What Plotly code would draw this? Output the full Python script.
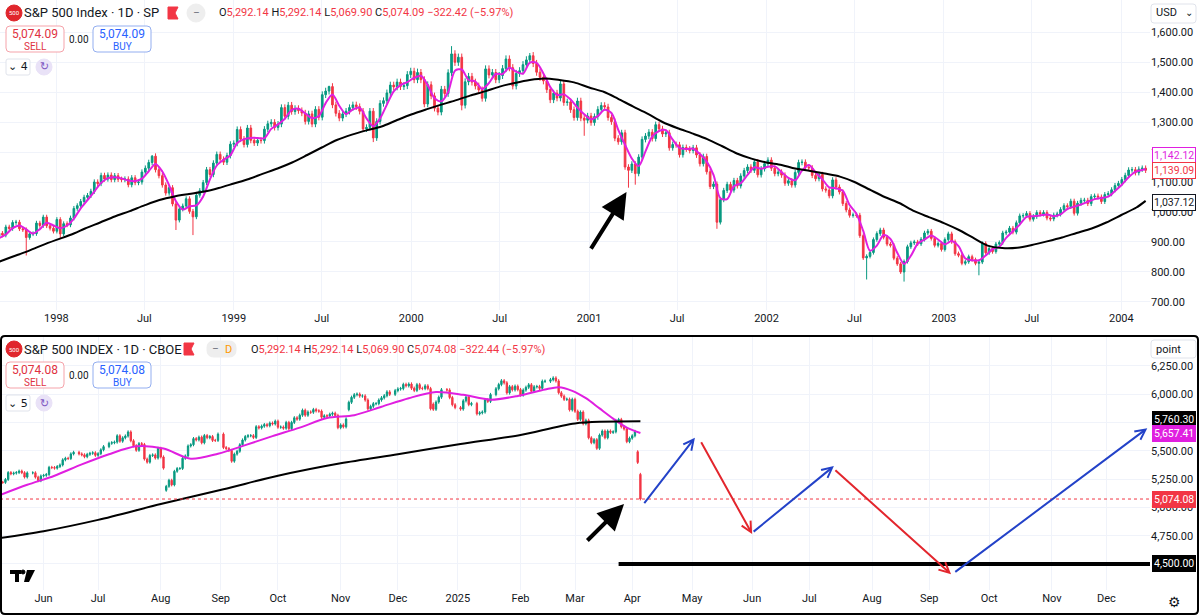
import pandas as pd
import plotly.graph_objects as go

W, H = 1200, 616
FONT = "Roboto"
INK = "#131722"
UP = "#089981"
DOWN = "#F23645"
PINK = "#E01FE0"
BLUE = "#2342C8"
RED = "#E3262D"
GRID = "#F0F3FA"

# ---- top pane: S&P 500 weekly closes (Fridays), Sep 1997 - Feb 2004
close_1997 = [929, 923, 950, 945, 965, 966, 944, 941, 915, 927, 928, 963, 955, 983, 954, 946, 936]
close_1998 = [975, 927, 961, 957, 980, 1012, 1021, 1035, 1049, 1055, 1069, 1100, 1095, 1122, 1110,
              1123, 1108, 1121, 1109, 1108, 1110, 1091, 1114, 1098, 1100, 1133, 1146, 1165, 1186,
              1141, 1121, 1090, 1063, 1081, 1027, 973, 1010, 1020, 1044, 1002, 984, 1056, 1071,
              1098, 1141, 1125, 1163, 1192, 1176, 1166, 1188, 1226]
close_1999 = [1229, 1275, 1243, 1225, 1280, 1239, 1230, 1239, 1238, 1276, 1294, 1299, 1282, 1293,
              1348, 1319, 1356, 1335, 1345, 1338, 1330, 1302, 1327, 1293, 1342, 1316, 1391, 1403,
              1418, 1357, 1329, 1313, 1327, 1336, 1348, 1357, 1351, 1336, 1277, 1282, 1336, 1247,
              1302, 1362, 1371, 1397, 1423, 1417, 1433, 1418, 1421, 1458, 1469]
close_2000 = [1441, 1465, 1441, 1360, 1424, 1387, 1346, 1333, 1409, 1395, 1464, 1527, 1499, 1516,
              1356, 1434, 1452, 1433, 1420, 1407, 1379, 1477, 1457, 1465, 1441, 1455, 1478, 1510,
              1481, 1420, 1462, 1471, 1491, 1507, 1521, 1495, 1466, 1449, 1437, 1408, 1374, 1396,
              1380, 1427, 1365, 1367, 1341, 1315, 1370, 1313, 1306, 1320]
close_2001 = [1298, 1318, 1342, 1355, 1350, 1315, 1301, 1246, 1234, 1264, 1150, 1139, 1160, 1128,
              1183, 1242, 1253, 1266, 1245, 1291, 1277, 1260, 1264, 1214, 1225, 1224, 1191, 1215,
              1210, 1205, 1214, 1190, 1161, 1185, 1134, 1085, 1093, 966, 1041, 1072, 1092, 1073,
              1105, 1087, 1120, 1138, 1150, 1139, 1167, 1124, 1144, 1161]
close_2002 = [1173, 1146, 1128, 1133, 1123, 1096, 1104, 1090, 1132, 1165, 1166, 1149, 1147, 1122,
              1111, 1125, 1077, 1073, 1054, 1107, 1083, 1067, 1028, 1007, 989, 990, 989, 921, 847,
              852, 865, 908, 928, 940, 916, 893, 889, 846, 827, 800, 835, 884, 897, 900, 894, 909,
              930, 936, 912, 889, 895, 875]
close_2003 = [908, 927, 901, 861, 856, 829, 834, 851, 841, 829, 833, 895, 864, 878, 868, 893, 898,
              930, 933, 946, 933, 964, 987, 988, 995, 976, 985, 998, 993, 998, 980, 977, 990, 993,
              1008, 1021, 1018, 1036, 996, 1029, 1039, 1039, 1028, 1051, 1053, 1050, 1035, 1058,
              1061, 1074, 1088, 1095]
close_2004 = [1108, 1122, 1140, 1141, 1131, 1143, 1146, 1139.09]

# intraweek extremes that show as long wicks
top_lows = {"1997-10-31": 855, "1998-01-09": 912, "1998-09-04": 940, "1998-10-09": 923,
            "1999-10-15": 1233, "2000-04-14": 1339, "2000-12-22": 1254, "2001-03-23": 1081,
            "2001-04-06": 1091, "2001-09-21": 944, "2002-07-26": 775, "2002-10-11": 768,
            "2003-03-14": 789}
top_highs = {"2000-03-24": 1553, "1999-07-16": 1421, "2000-09-01": 1530, "1998-07-17": 1190,
             "2000-01-14": 1478}

# pink average, every second week
pink_top = [913, 925, 946, 955, 942, 928, 943, 964, 955,
            946, 955, 978, 1012, 1040, 1068, 1097, 1113, 1116, 1112, 1105, 1103, 1111, 1136, 1160,
            1135, 1089, 1036, 1008, 1019, 1022, 1052, 1109, 1155, 1174, 1189,
            1230, 1243, 1247, 1247, 1246, 1277, 1292, 1311, 1340, 1344, 1329, 1313, 1320, 1363,
            1392, 1354, 1326, 1342, 1348, 1312, 1286, 1312, 1358, 1402, 1423, 1433,
            1447, 1454, 1423, 1379, 1369, 1400, 1471, 1475, 1440, 1435, 1410, 1430, 1460, 1460,
            1481, 1468, 1461, 1498, 1497, 1462, 1417, 1390, 1392, 1375, 1348, 1326,
            1309, 1320, 1341, 1330, 1274, 1224, 1178, 1153, 1202, 1252, 1270, 1273, 1241, 1214,
            1210, 1211, 1193, 1168, 1124, 1046, 1043, 1086, 1096, 1124, 1149, 1144,
            1151, 1152, 1133, 1114, 1106, 1138, 1157, 1132, 1109, 1082, 1079, 1071, 1023, 994,
            937, 871, 888, 923, 910, 864, 827, 854, 894, 908, 922, 908,
            892, 903, 886, 845, 839, 839, 855, 876, 884, 914, 936, 958, 984, 986, 988, 992, 986,
            992, 1010, 1018, 1025, 1034, 1043, 1047, 1051, 1070,
            1091, 1116, 1134, 1140, 1142.12]

# black long average, first of each month Sep 1997 - Feb 2004, then last bar
black_top = [832, 850, 868, 888,
             907, 925, 945, 965, 985, 1003, 1022, 1040, 1052, 1060, 1068, 1080,
             1095, 1110, 1127, 1145, 1165, 1190, 1215, 1240, 1258, 1272, 1285, 1305,
             1325, 1342, 1357, 1372, 1388, 1402, 1418, 1430, 1440, 1445, 1440, 1432,
             1415, 1400, 1378, 1352, 1328, 1300, 1280, 1262, 1243, 1220, 1195, 1178,
             1165, 1157, 1145, 1137, 1128, 1118, 1100, 1075, 1050, 1030, 1003, 983,
             963, 940, 915, 888, 880, 881, 890, 902, 915, 930, 945, 965,
             990, 1015, 1037.12]

# ---- bottom pane: daily closes May 10 2024 - Apr 4 2025
close_2024 = [5222, 5221, 5247, 5308, 5297, 5303, 5308, 5321, 5307, 5268, 5305, 5306, 5267, 5236, 5278,
              5283, 5291, 5354, 5352, 5347, 5361, 5375, 5421, 5434, 5432, 5473, 5487, 5473, 5465,
              5448, 5469, 5478, 5483, 5460,
              5475, 5509, 5537, 5567, 5572, 5577, 5633, 5585, 5615, 5631, 5667, 5589, 5545, 5505,
              5564, 5556, 5427, 5400, 5459, 5464, 5436, 5522,
              5446, 5347, 5186, 5240, 5199, 5319, 5344, 5344, 5434, 5455, 5543, 5554, 5608, 5597,
              5621, 5571, 5635, 5616, 5626, 5592, 5592, 5648,
              5529, 5520, 5503, 5408, 5471, 5496, 5554, 5596, 5626, 5634, 5634, 5618, 5713, 5703,
              5718, 5732, 5722, 5745, 5738, 5762,
              5709, 5710, 5700, 5751, 5696, 5751, 5792, 5780, 5815, 5859, 5815, 5843, 5841, 5865,
              5853, 5851, 5797, 5809, 5808, 5823, 5832, 5813, 5705,
              5729, 5712, 5782, 5929, 5973, 5996, 6001, 5984, 5985, 5949, 5871, 5893, 5917, 5917,
              5949, 5969, 5987, 6021, 5999, 6032,
              6047, 6050, 6087, 6075, 6090, 6053, 6034, 6085, 6052, 6051, 6074, 6050, 5872, 5867,
              5931, 5974, 6040, 6038, 5971, 5907, 5882]
close_2025 = [5869, 5942, 5975, 5909, 5918, 5827, 5836, 5843, 5950, 5937, 5997, 6049, 6086, 6119,
              6101, 6012, 6067, 6039, 6071, 6041,
              5994, 6037, 6061, 6084, 6026, 6066, 6068, 6052, 6115, 6115, 6129, 6144, 6118, 6013,
              5983, 5955, 5956, 5862, 5955,
              5850, 5778, 5843, 5739, 5770, 5615, 5572, 5599, 5522, 5639, 5675, 5615, 5675, 5663,
              5668, 5768, 5777, 5712, 5693, 5581, 5612,
              5633, 5671, 5397, 5074.08]
market_holidays = ["2024-05-27", "2024-06-19", "2024-07-04", "2024-09-02", "2024-11-28",
                   "2024-12-25", "2025-01-01", "2025-01-09", "2025-01-20", "2025-02-17"]
gap_opens = {"2024-08-05": 5151, "2024-11-06": 5864, "2024-12-19": 5913,
             "2025-04-03": 5492, "2025-04-04": 5292}

pink_bot_dates = ["2024-05-10", "2024-05-24", "2024-06-07", "2024-06-21", "2024-07-05",
                  "2024-07-19", "2024-08-02", "2024-08-16", "2024-08-30", "2024-09-13",
                  "2024-09-27", "2024-10-11", "2024-10-25", "2024-11-08", "2024-11-22",
                  "2024-12-06", "2024-12-20", "2025-01-03", "2025-01-17", "2025-01-31",
                  "2025-02-14", "2025-02-21", "2025-02-28", "2025-03-07", "2025-03-14",
                  "2025-03-21", "2025-03-28", "2025-04-04"]
pink_bot = [5110, 5200, 5280, 5380, 5470, 5540, 5520, 5430, 5475, 5550, 5630, 5705, 5790, 5815,
            5890, 5965, 6020, 5995, 5952, 5985, 6042, 6062, 6030, 5965, 5875, 5785, 5705, 5657.41]
black_bot_dates = ["2024-05-10", "2024-06-03", "2024-07-01", "2024-08-01", "2024-09-03",
                   "2024-10-01", "2024-11-01", "2024-12-02", "2025-01-02", "2025-02-03",
                   "2025-03-03", "2025-04-04"]
black_bot = [4730, 4790, 4890, 5030, 5160, 5280, 5390, 5470, 5560, 5640, 5742, 5760.30]

# hand-drawn projection on the bottom pane
proj_x0 = ["2025-04-07", "2025-05-06", "2025-06-02", "2025-07-14", "2025-09-12"]
proj_y0 = [5025, 5590, 4775, 5340, 4420]
proj_x1 = ["2025-05-02", "2025-06-02", "2025-07-14", "2025-09-11", "2025-12-22"]
proj_y1 = [5615, 4765, 5365, 4410, 5700]
support_x = ["2025-03-25", "2025-12-23"]
support_level = 4500
arrow_top = [("2001-01-03", 873), ("2001-03-19", 1067)]
arrow_bot = [("2025-03-07", 4694), ("2025-03-27", 5030)]

header_top = ["S&P 500 Index · 1D · SP", ["5,292.14", "5,292.14", "5,069.90", "5,074.09"],
              "−322.42 (−5.97%)", "5,074.09", "4"]
header_bot = ["S&P 500 INDEX · 1D · CBOE", ["5,292.14", "5,292.14", "5,069.90", "5,074.08"],
              "−322.44 (−5.97%)", "5,074.08", "5"]


def px(x):
    return x / W


def py(y):
    return 1 - y / H


def candles(dates, closes, first_open, wick, opens_override=None, lows=None, highs=None):
    df = pd.DataFrame({"close": closes}, index=dates)
    df["open"] = df["close"].shift(1).fillna(first_open)
    for d, v in (opens_override or {}).items():
        if pd.Timestamp(d) in df.index:
            df.loc[pd.Timestamp(d), "open"] = v
    df["high"] = df[["open", "close"]].max(axis=1) * (1 + wick)
    df["low"] = df[["open", "close"]].min(axis=1) * (1 - wick)
    for d, v in (lows or {}).items():
        if pd.Timestamp(d) in df.index:
            df.loc[pd.Timestamp(d), "low"] = v
    for d, v in (highs or {}).items():
        if pd.Timestamp(d) in df.index:
            df.loc[pd.Timestamp(d), "high"] = v
    return df


def get_top():
    closes = close_1997 + close_1998 + close_1999 + close_2000 + close_2001 + close_2002 \
        + close_2003 + close_2004
    dates = pd.date_range("1997-09-05", periods=len(closes), freq="W-FRI")
    return candles(dates, closes, 920, 0.008, lows=top_lows, highs=top_highs)


def get_bottom():
    dates = pd.bdate_range("2024-05-10", "2025-04-04")
    dates = dates[~dates.isin(pd.to_datetime(market_holidays))]
    closes = close_2024 + close_2025
    n = min(len(dates), len(closes))
    return candles(dates[:n], closes[:n], 5215, 0.0025, opens_override=gap_opens)


def candle_trace(df, xa, ya):
    return go.Candlestick(
        x=df.index, open=df["open"], high=df["high"], low=df["low"], close=df["close"],
        increasing=dict(line=dict(color=UP, width=1), fillcolor=UP),
        decreasing=dict(line=dict(color=DOWN, width=1), fillcolor=DOWN),
        xaxis=xa, yaxis=ya, showlegend=False, hoverinfo="skip",
    )


def rounded(fig, x0, y0, x1, y1, r, line, fill="white", width=1):
    path = (f"M{px(x0 + r)},{py(y0)} L{px(x1 - r)},{py(y0)} Q{px(x1)},{py(y0)} {px(x1)},{py(y0 + r)} "
            f"L{px(x1)},{py(y1 - r)} Q{px(x1)},{py(y1)} {px(x1 - r)},{py(y1)} "
            f"L{px(x0 + r)},{py(y1)} Q{px(x0)},{py(y1)} {px(x0)},{py(y1 - r)} "
            f"L{px(x0)},{py(y0 + r)} Q{px(x0)},{py(y0)} {px(x0 + r)},{py(y0)} Z")
    fig.add_shape(type="path", path=path, xref="paper", yref="paper",
                  line=dict(color=line, width=width), fillcolor=fill, layer="above")


def circle(fig, cx, cy, r, fill, line=None):
    fig.add_shape(type="circle", xref="paper", yref="paper",
                  x0=px(cx - r), x1=px(cx + r), y0=py(cy + r), y1=py(cy - r),
                  fillcolor=fill, line=dict(color=line or fill, width=1), layer="above")


def text(fig, x, y, s, size=12, color=INK, anchor="left", family=FONT):
    fig.add_annotation(x=px(x), y=py(y), xref="paper", yref="paper", text=s, showarrow=False,
                       xanchor=anchor, yanchor="middle", borderpad=0,
                       font=dict(family=family, size=size, color=color))


def header(fig, dy, info, flag_x, ohlc_x, pill):
    title, ohlc, change, price, count = info
    circle(fig, 14, 13 + dy, 8, "#E0262C")
    text(fig, 14, 13 + dy, "500", size=6, color="white", anchor="center")
    text(fig, 23, 13 + dy, title, size=13)
    fig.add_shape(type="path", xref="paper", yref="paper", layer="above",
                  path=f"M{px(flag_x)},{py(7 + dy)} L{px(flag_x + 10)},{py(7 + dy)} "
                       f"L{px(flag_x + 7)},{py(13 + dy)} L{px(flag_x + 10)},{py(19 + dy)} "
                       f"L{px(flag_x)},{py(19 + dy)} Z",
                  fillcolor="#F23645", line=dict(color="#F23645", width=1))
    if pill:
        rounded(fig, flag_x + 23, 5 + dy, flag_x + 52, 21 + dy, 7, "#EEEEEE", "#EEEEEE")
        text(fig, flag_x + 31, 13 + dy, "−", size=12, color="#787B86", anchor="center")
        text(fig, flag_x + 44, 13 + dy, "D", size=11, color="#FF9800", anchor="center")
    else:
        circle(fig, flag_x + 28, 13 + dy, 9, "#EEEEEE")
        text(fig, flag_x + 28, 13 + dy, "−", size=12, color="#787B86", anchor="center")
    red = "<span style='color:#F23645'>{}</span>"
    s = " ".join(k + red.format(v) for k, v in zip("OHLC", ohlc)) + " " + red.format(change)
    text(fig, ohlc_x, 13 + dy, s, size=11)
    # sell / buy boxes
    rounded(fig, 6, 26 + dy, 64, 52 + dy, 4, "#F5A3AA")
    text(fig, 35, 34 + dy, price, size=12, color="#E0323F", anchor="center")
    text(fig, 35, 46 + dy, "SELL", size=10, color="#E0323F", anchor="center")
    text(fig, 79, 39 + dy, "0.00", size=10, anchor="center")
    rounded(fig, 93, 26 + dy, 151, 52 + dy, 4, "#93AEF0")
    text(fig, 122, 34 + dy, price, size=12, color="#2962FF", anchor="center")
    text(fig, 122, 46 + dy, "BUY", size=10, color="#2962FF", anchor="center")
    rounded(fig, 6, 59 + dy, 30, 75 + dy, 2, "#E0E3EB")
    text(fig, 18, 67 + dy, "⌄ " + count, size=11, anchor="center", family="DejaVu Sans")
    circle(fig, 44, 67 + dy, 8, "#E9E2F7")
    text(fig, 44, 67 + dy, "↻", size=11, color="#7E57C2", anchor="center", family="DejaVu Sans")


def tag(fig, yref, y, s, bg, fg, border):
    fig.add_annotation(x=px(1196), y=y, xref="paper", yref=yref, text=s, showarrow=False,
                       xanchor="right", yanchor="middle", bgcolor=bg, bordercolor=border,
                       borderwidth=1, borderpad=1, font=dict(family=FONT, size=10.5, color=fg))


def plot(top, bot):
    fig = go.Figure()
    fig.add_trace(candle_trace(top, "x", "y"))
    pink_dates = list(top.index[::2]) + [top.index[-1]]
    fig.add_trace(go.Scatter(x=pink_dates[:len(pink_top)], y=pink_top, mode="lines",
                             line=dict(color=PINK, width=2, shape="spline", smoothing=0.8),
                             hoverinfo="skip", showlegend=False))
    black_dates = list(pd.date_range("1997-09-01", periods=len(black_top) - 1, freq="MS")) \
        + [top.index[-1]]
    fig.add_trace(go.Scatter(x=black_dates, y=black_top, mode="lines",
                             line=dict(color="black", width=2, shape="spline", smoothing=0.8),
                             hoverinfo="skip", showlegend=False))

    fig.add_trace(candle_trace(bot, "x2", "y2"))
    fig.add_trace(go.Scatter(x=pink_bot_dates, y=pink_bot, mode="lines", xaxis="x2", yaxis="y2",
                             line=dict(color=PINK, width=2, shape="spline", smoothing=0.8),
                             hoverinfo="skip", showlegend=False))
    fig.add_trace(go.Scatter(x=black_bot_dates, y=black_bot, mode="lines", xaxis="x2", yaxis="y2",
                             line=dict(color="black", width=2, shape="spline", smoothing=0.8),
                             hoverinfo="skip", showlegend=False))
    fig.add_trace(go.Scatter(x=support_x, y=[support_level] * 2, mode="lines", xaxis="x2",
                             yaxis="y2", line=dict(color="black", width=4),
                             hoverinfo="skip", showlegend=False))
    fig.add_shape(type="line", xref="x2 domain", yref="y2", x0=0, x1=1, y0=bot["close"].iloc[-1],
                  y1=bot["close"].iloc[-1], line=dict(color="#F23645", width=1, dash="dot"))

    for i, (x0, y0, x1, y1) in enumerate(zip(proj_x0, proj_y0, proj_x1, proj_y1)):
        fig.add_annotation(x=x1, y=y1, ax=x0, ay=y0, xref="x2", yref="y2", axref="x2", ayref="y2",
                           text="", showarrow=True, arrowhead=5, arrowsize=1, arrowwidth=2,
                           arrowcolor=BLUE if i % 2 == 0 else RED)
    for (ax, ay), (x, y), xr, yr in [(arrow_top[0], arrow_top[1], "x", "y"),
                                     (arrow_bot[0], arrow_bot[1], "x2", "y2")]:
        fig.add_annotation(x=x, y=y, ax=ax, ay=ay, xref=xr, yref=yr, axref=xr, ayref=yr,
                           text="", showarrow=True, arrowhead=2, arrowsize=1.3, arrowwidth=4,
                           arrowcolor="black")

    top_ticks = pd.date_range("1998-01-01", "2004-01-01", freq="6MS")
    bot_ticks = pd.date_range("2024-06-01", "2025-12-01", freq="BMS")
    bot_yticks = list(range(4500, 6251, 250))
    tickfont = dict(family=FONT, size=11, color=INK)
    xcommon = dict(showgrid=True, gridcolor=GRID, zeroline=False, showline=False, ticks="",
                   tickfont=tickfont, domain=[0, px(1150)], rangeslider=dict(visible=False))
    ycommon = dict(showgrid=True, gridcolor=GRID, zeroline=False, showline=False, ticks="",
                   side="right", tickfont=tickfont)
    fig.update_layout(
        width=W, height=H, margin=dict(l=0, r=0, t=0, b=0),
        paper_bgcolor="white", plot_bgcolor="white", hovermode=False, showlegend=False,
        xaxis=dict(xcommon, anchor="y", type="date", range=["1997-09-07", "2004-02-29"],
                   tickvals=top_ticks,
                   ticktext=[str(d.year) if d.month == 1 else "Jul" for d in top_ticks]),
        yaxis=dict(ycommon, anchor="x", domain=[py(310), 1], range=[673.3, 1706.7],
                   tickvals=list(range(700, 1601, 100)), tickformat=",.2f"),
        xaxis2=dict(xcommon, anchor="y2", type="date", range=["2024-05-10", "2025-12-23"],
                    rangebreaks=[dict(bounds=["sat", "mon"])], tickvals=bot_ticks,
                    ticktext=[str(d.year) if d.month == 1 else d.strftime("%b") for d in bot_ticks]),
        # the 4,500 and 5,750 labels sit under price tags, so they are left blank
        yaxis2=dict(ycommon, anchor="x2", domain=[py(590), py(337)], range=[4270, 6506],
                    tickvals=bot_yticks,
                    ticktext=["" if v in (4500, 5750) else f"{v:,.2f}" for v in bot_yticks]),
    )

    # price tags on the scales
    tag(fig, "y", 1190, "1,142.12", "white", PINK, PINK)
    tag(fig, "y", 1137, "1,139.09", "white", "#F23645", "#F23645")
    tag(fig, "y", 1033, "1,037.12", "white", INK, INK)
    tag(fig, "y2", 5780, "5,760.30", "black", "white", "black")
    tag(fig, "y2", 5655, "5,657.41", PINK, "white", PINK)
    tag(fig, "y2", 5074.08, "5,074.08", "#F23645", "white", "#F23645")
    tag(fig, "y2", 4500, "4,500.00", "black", "white", "black")

    # pane chrome
    header(fig, 0, header_top, 168, 218, False)
    header(fig, 336, header_bot, 184, 250, True)
    rounded(fig, 1151, 4, 1196, 23, 3, "#E0E3EB")
    text(fig, 1155, 13, "USD", size=11)
    text(fig, 1189, 13, "⌄", size=10, anchor="center", family="DejaVu Sans")
    rounded(fig, 1151, 340, 1196, 358, 3, "#E0E3EB")
    text(fig, 1155, 349, "point", size=11)
    rounded(fig, 1, 336, 1198, 614, 4, "black", "rgba(0,0,0,0)", width=2)
    # TradingView logo and settings icon
    fig.add_shape(type="rect", xref="paper", yref="paper", x0=px(10), x1=px(21), y0=py(574),
                  y1=py(570), fillcolor="black", line=dict(width=0), layer="above")
    fig.add_shape(type="rect", xref="paper", yref="paper", x0=px(15), x1=px(19), y0=py(582),
                  y1=py(570), fillcolor="black", line=dict(width=0), layer="above")
    circle(fig, 23, 572, 2, "black")
    fig.add_shape(type="path", xref="paper", yref="paper", layer="above",
                  path=f"M{px(27)},{py(570)} L{px(35)},{py(570)} L{px(29)},{py(582)} "
                       f"L{px(24)},{py(582)} Z",
                  fillcolor="black", line=dict(width=0))
    text(fig, 1174, 602, "⚙", size=14, color=INK, anchor="center", family="DejaVu Sans")

    # the page body has a default 8px margin; drop it so the figure fills the window
    fig.write_html("out.html", config={"displayModeBar": False},
                   post_script="document.body.style.margin='0';")


if __name__ == "__main__":
    plot(get_top(), get_bottom())
